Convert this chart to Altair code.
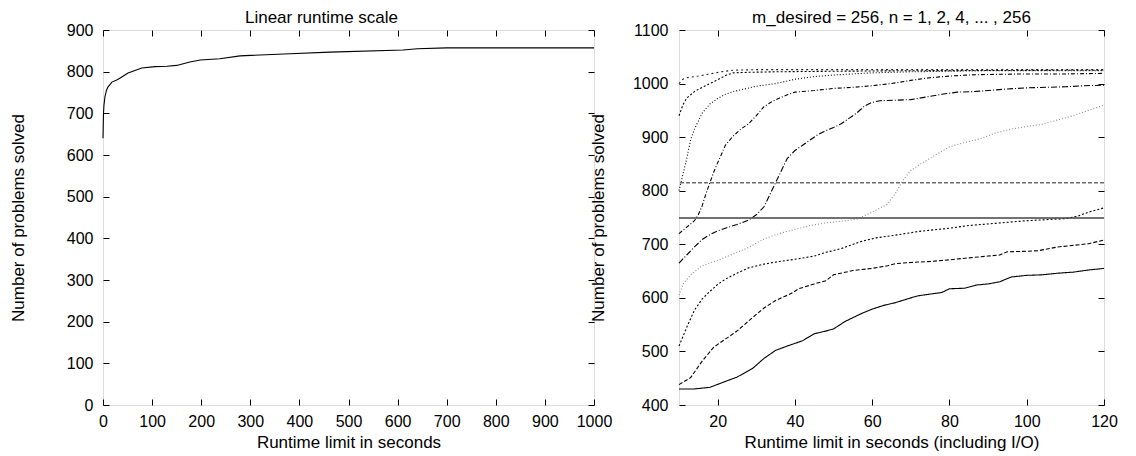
import altair as alt
import pandas as pd

FONT = "Liberation Sans"
TICK = 6

# ---------------- left panel data ----------------
left_t = [0, 1, 2, 4, 7, 10, 18, 28, 35, 51, 65, 79, 106, 130, 150, 177, 198, 238, 279, 381, 462, 611, 640, 700, 1000]
left_v = [640, 700, 720, 740, 755, 763, 775, 780, 785, 797, 803, 809, 812, 813, 815, 823, 828, 831, 838, 843, 847, 852, 855, 857, 857]
left_xticks = [0, 100, 200, 300, 400, 500, 600, 700, 800, 900, 1000]
left_yticks = [0, 100, 200, 300, 400, 500, 600, 700, 800, 900]

# ---------------- right panel data ----------------
c1_t = [10, 14, 18, 22, 25, 29, 32, 35, 38, 42, 45, 48, 50, 53, 57, 60, 63, 66, 70, 72, 76, 78, 80, 84, 87, 90, 93, 96, 100, 104, 108, 112, 116, 120]
c1_v = [430, 430, 433, 444, 452, 468, 487, 502, 510, 520, 533, 538, 542, 556, 570, 579, 586, 591, 600, 604, 608, 610, 617, 618, 624, 626, 630, 639, 642, 643, 646, 648, 652, 655]

c2_t = [10, 13, 16, 19, 22, 25, 29, 32, 35, 39, 41, 45, 48, 50, 55, 60, 64, 66, 70, 75, 80, 84, 90, 93, 95, 100, 103, 108, 112, 116, 120]
c2_v = [438, 451, 482, 508, 523, 538, 563, 581, 595, 608, 617, 626, 632, 643, 651, 655, 660, 664, 666, 668, 671, 674, 678, 680, 686, 687, 688, 695, 698, 701, 708]

c3_t = [10, 12, 14, 16, 18, 20, 22, 25, 28, 32, 36, 40, 45, 48, 52, 57, 61, 66, 72, 76, 80, 85, 90, 95, 100, 105, 110, 113, 116, 120]
c3_v = [510, 545, 577, 598, 612, 625, 635, 646, 656, 663, 668, 672, 678, 685, 692, 705, 712, 717, 724, 727, 730, 735, 738, 741, 744, 746, 748, 752, 760, 768]

c4_t = [10, 11, 13, 16, 20, 24, 28, 32, 36, 40, 44, 48, 52, 56, 60, 64, 66, 68, 70, 73, 76, 80, 84, 88, 92, 96, 100, 104, 108, 112, 116, 120]
c4_v = [605, 625, 643, 660, 670, 682, 694, 710, 720, 728, 735, 740, 743, 747, 760, 775, 795, 820, 838, 852, 865, 882, 890, 897, 908, 915, 920, 924, 932, 940, 950, 960]

c5_t = [10, 12, 14, 16, 18, 20, 22, 25, 28, 30, 32, 33, 34, 35, 36, 37, 38, 40, 42, 44, 46, 48, 50, 52, 54, 56, 58, 60, 62, 66, 70, 74, 78, 82, 86, 90, 95, 100, 105, 110, 115, 120]
c5_v = [665, 680, 695, 709, 718, 725, 730, 737, 745, 755, 770, 785, 800, 815, 830, 845, 860, 875, 885, 895, 905, 912, 918, 925, 935, 945, 958, 965, 968, 969, 970, 975, 980, 984, 985, 987, 990, 992, 993, 994, 996, 997]

c6_t = [10, 12, 14, 15, 16, 17, 18, 19, 20, 21, 22, 24, 26, 28, 30, 32, 34, 36, 38, 40, 45, 50, 55, 60, 65, 70, 75, 80, 85, 90, 100, 110, 120]
c6_v = [720, 732, 744, 755, 772, 795, 815, 835, 852, 868, 885, 902, 915, 925, 940, 957, 966, 973, 979, 984, 987, 991, 993, 996, 1000, 1006, 1011, 1014, 1016, 1017, 1018, 1018, 1019]

c7_t = [10, 11, 12, 13, 14, 15, 16, 18, 20, 22, 24, 27, 30, 35, 40, 45, 50, 55, 60, 70, 80, 90, 100, 120]
c7_v = [800, 830, 860, 895, 915, 930, 945, 962, 972, 980, 985, 990, 995, 1000, 1008, 1013, 1016, 1018, 1020, 1022, 1023, 1024, 1024, 1024]

c8_t = [10, 11, 12, 14, 16, 18, 20, 22, 24, 28, 35, 50, 70, 120]
c8_v = [940, 960, 973, 985, 993, 1000, 1007, 1015, 1020, 1021, 1022, 1023, 1024, 1025]

c9_t = [10, 11, 12, 15, 18, 21, 24, 30, 120]
c9_v = [1000, 1008, 1011, 1014, 1018, 1022, 1025, 1026, 1026]

series_names = ["n=1", "n=2", "n=4", "n=8", "n=16", "n=32", "n=64", "n=128", "n=256"]
series_t = [c1_t, c2_t, c3_t, c4_t, c5_t, c6_t, c7_t, c8_t, c9_t]
series_v = [c1_v, c2_v, c3_v, c4_v, c5_v, c6_v, c7_v, c8_v, c9_v]

ref_names = ["ref_a", "ref_b"]
ref_values = [749, 815]

right_xticks = [20, 40, 60, 80, 100, 120]
right_yticks = [400, 500, 600, 700, 800, 900, 1000, 1100]

style_names = series_names + ref_names
style_colors = ["#000000", "#000000", "#000000", "#8c8c8c", "#000000", "#000000", "#000000", "#000000", "#222222",
                "#444444", "#6e6e6e"]
style_dashes = [[1, 0], [4, 2], [2, 2], [1, 2], [6, 2, 1, 2], [4, 2, 1, 2], [1, 2], [2, 2], [2, 3],
                [1, 0], [4, 2]]

# ---------------- build tables ----------------
left_df = pd.DataFrame({"t": left_t, "v": left_v})
rows = []
for name, ts, vs in zip(series_names, series_t, series_v):
    for t, v in zip(ts, vs):
        rows.append({"series": name, "t": t, "v": v})
right_df = pd.DataFrame(rows)
ref_df = pd.DataFrame({"series": ref_names, "v": ref_values})


def ax(orient, values, title=None, labels=True, label_pad=10, title_pad=4):
    kw = dict(orient=orient, values=values, offset=-TICK, tickSize=TICK, tickColor="black",
              tickWidth=1, domain=False, grid=False, labels=labels, format="d",
              labelPadding=label_pad, labelFontSize=16, labelColor="black",
              labelFont=FONT, labelFlush=False, labelOverlap=False)
    if title is not None:
        kw.update(title=title, titleFontSize=17, titleFont=FONT, titleFontWeight="normal",
                  titleColor="black", titlePadding=title_pad)
    else:
        kw.update(title=None)
    return alt.Axis(**kw)


def panel_title(text, dx=0):
    return alt.TitleParams(text, fontSize=17, font=FONT, fontWeight="normal", color="black", offset=-5, dx=dx)


# ---------------- left panel ----------------
lx = alt.Scale(domain=[0, 1000], nice=False, zero=False)
ly = alt.Scale(domain=[0, 900], nice=False, zero=False)

left_main = alt.Chart(left_df).mark_line(color="black", strokeWidth=1.1).encode(
    x=alt.X("t:Q", scale=lx, axis=ax("bottom", left_xticks, "Runtime limit in seconds", label_pad=8, title_pad=5)),
    y=alt.Y("v:Q", scale=ly, axis=ax("left", left_yticks, "Number of problems solved", label_pad=10, title_pad=39)),
)
left_mirror = alt.Chart(left_df).mark_line(opacity=0).encode(
    x=alt.X("t:Q", scale=lx, axis=ax("top", left_xticks, labels=False, label_pad=0)),
    y=alt.Y("v:Q", scale=ly, axis=ax("right", left_yticks, labels=False, label_pad=0)),
)
left = alt.layer(left_main, left_mirror).resolve_axis(x="independent", y="independent").properties(
    width=491, height=375, title=panel_title("Linear runtime scale", dx=-27))

# ---------------- right panel ----------------
rx = alt.Scale(domain=[10, 120], nice=False, zero=False)
ry = alt.Scale(domain=[400, 1100], nice=False, zero=False)
cscale = alt.Scale(domain=style_names, range=style_colors)
dscale = alt.Scale(domain=style_names, range=style_dashes)

right_lines = alt.Chart(right_df).mark_line(strokeWidth=1.1).encode(
    x=alt.X("t:Q", scale=rx, axis=ax("bottom", right_xticks, "Runtime limit in seconds (including I/O)", label_pad=8, title_pad=5)),
    y=alt.Y("v:Q", scale=ry, axis=ax("left", right_yticks, "Number of problems solved", label_pad=11, title_pad=25)),
    color=alt.Color("series:N", scale=cscale, legend=None),
    strokeDash=alt.StrokeDash("series:N", scale=dscale, legend=None),
    detail="series:N",
)
right_refs = alt.Chart(ref_df).mark_rule(strokeWidth=1.5).encode(
    y=alt.Y("v:Q", scale=ry, axis=None),
    color=alt.Color("series:N", scale=cscale, legend=None),
    strokeDash=alt.StrokeDash("series:N", scale=dscale, legend=None),
)
right_mirror = alt.Chart(right_df).mark_line(opacity=0).encode(
    x=alt.X("t:Q", scale=rx, axis=ax("top", right_xticks, labels=False, label_pad=0)),
    y=alt.Y("v:Q", scale=ry, axis=ax("right", right_yticks, labels=False, label_pad=0)),
    detail="series:N",
)
right = alt.layer(right_lines, right_refs, right_mirror).resolve_axis(x="independent", y="independent").properties(
    width=425, height=375, title=panel_title("m_desired = 256, n = 1, 2, 4, ... , 256"))

chart = alt.hconcat(left, right, spacing=85, bounds="flush").properties(
    padding={"left": 0, "top": 0, "right": 5, "bottom": 0}
).configure_view(stroke="black", strokeWidth=1).configure(background="white")

chart.save("out.html", embed_options={"renderer": "svg", "actions": False})
